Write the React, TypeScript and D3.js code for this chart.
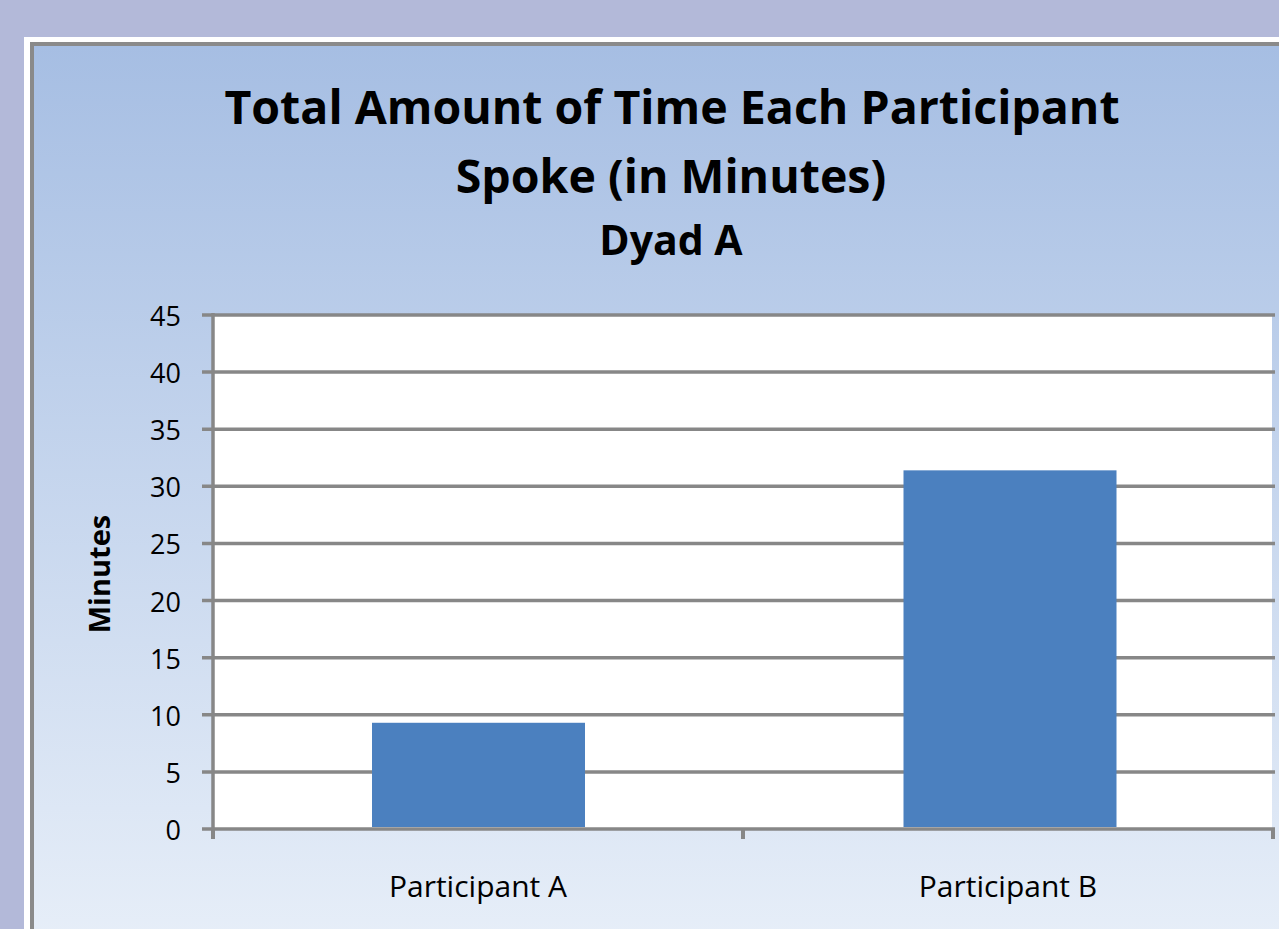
import React from "react";
import * as d3 from "d3";

const categories = ["Participant A", "Participant B"];
const minutes = [9.3, 31.4];
const yTicks = [0, 5, 10, 15, 20, 25, 30, 35, 40, 45];
const titleLines = ["Total Amount of Time Each Participant", "Spoke (in Minutes)"];
const subtitle = "Dyad A";
const yLabel = "Minutes";

const W = 1279, H = 929;
const plot = { left: 213, right: 1273, top: 315, bottom: 829 };
const font = "'Open Sans', sans-serif";

export default function App() {
  const x = d3.scaleBand<string>().domain(categories).range([plot.left, plot.right]).paddingInner(0.6).paddingOuter(0.3);
  const band = d3.scaleBand<string>().domain(categories).range([plot.left, plot.right]);
  const y = d3.scaleLinear().domain([0, 45]).range([plot.bottom, plot.top]);
  const grid = "#878787";
  const catTicks = [plot.left, ...categories.map((c) => (band(c) as number) + band.bandwidth())];
  return (
    <svg width={W} height={H} style={{ position: "absolute", left: 0, top: 0 }}>
      <defs>
        <linearGradient id="bg" x1="0" y1="0" x2="0" y2="1">
          <stop offset="0" stopColor="#a6bee3" />
          <stop offset="1" stopColor="#e9f0f9" />
        </linearGradient>
      </defs>
      <rect x={0} y={0} width={W} height={H} fill="#b3b9d9" />
      <rect x={24} y={37} width={W} height={H} fill="#ffffff" />
      <rect x={30} y={42} width={W} height={H} fill="#8a8a8a" />
      <rect x={34} y={46} width={W} height={H} fill="url(#bg)" />
      <rect x={plot.left} y={plot.top} width={plot.right - plot.left - 1} height={plot.bottom - plot.top} fill="#ffffff" />
      {yTicks.map((t) => (
        <g key={t}>
          <line x1={202} x2={plot.right + 2} y1={y(t)} y2={y(t)} stroke={grid} strokeWidth={3.5} />
          <text x={181} y={y(t) + 11} textAnchor="end" fontFamily={font} fontSize={27} fill="#000">{t}</text>
        </g>
      ))}
      <line x1={plot.left} x2={plot.left} y1={plot.top - 2} y2={plot.bottom + 10} stroke={grid} strokeWidth={3.5} />
      {catTicks.map((cx, i) => (
        <line key={i} x1={cx} x2={cx} y1={plot.bottom} y2={plot.bottom + 10} stroke={grid} strokeWidth={4} />
      ))}
      {categories.map((c, i) => (
        <rect key={c} x={(x(c) as number) + i * 1.5} width={x.bandwidth() + 1} y={y(minutes[i])} height={y(0) - y(minutes[i]) - 2} fill="#4b80bf" />
      ))}
      {categories.map((c) => (
        <text key={c} x={(band(c) as number) + band.bandwidth() / 2} y={897} textAnchor="middle" fontFamily={font} fontSize={30} fill="#000">{c}</text>
      ))}
      <text x={672} y={124} textAnchor="middle" fontFamily={font} fontWeight={700} fontSize={46.5} fill="#000">{titleLines[0]}</text>
      <text x={671} y={193} textAnchor="middle" fontFamily={font} fontWeight={700} fontSize={46.5} fill="#000">{titleLines[1]}</text>
      <text x={671} y={255} textAnchor="middle" fontFamily={font} fontWeight={700} fontSize={41} fill="#000">{subtitle}</text>
      <text transform={`translate(110, ${574}) rotate(-90)`} textAnchor="middle" fontFamily={font} fontWeight={700} fontSize={29} fill="#000">{yLabel}</text>
    </svg>
  );
}
